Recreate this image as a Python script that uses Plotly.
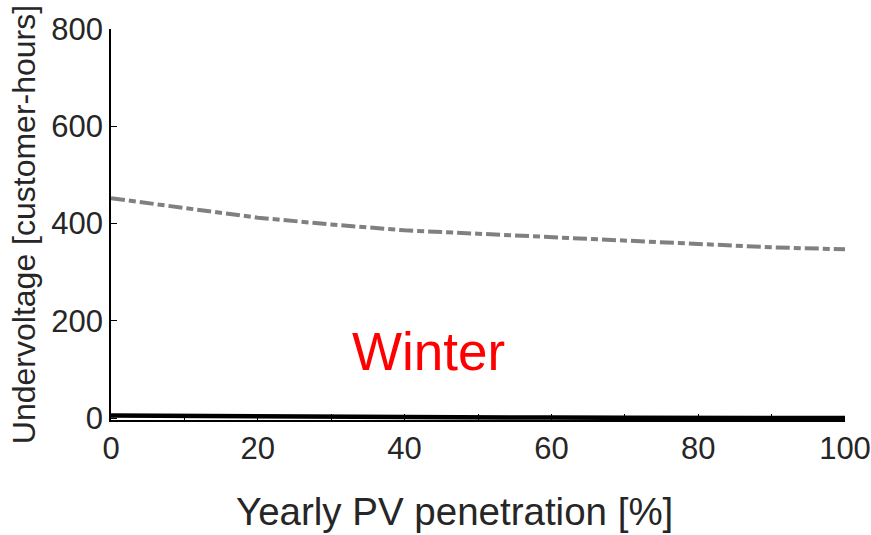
import plotly.graph_objects as go

# PV penetration levels (%)
penetration = [0, 10, 20, 30, 40, 50, 60, 70, 80, 90, 100]

# Undervoltage in customer-hours for the two cases
undervoltage_dashed = [452, 432, 412, 398, 386, 379, 372, 364, 357, 351, 347]
undervoltage_solid = [5, 4, 3, 2, 1, 1, 1, 0.5, 0.5, 0.5, 0]

x_ticks = [0, 20, 40, 60, 80, 100]
y_ticks = [0, 200, 400, 600, 800]

FONT = "Liberation Sans, Arial, sans-serif"
TEXT = "#262626"

fig = go.Figure()

fig.add_trace(go.Scatter(
    x=penetration, y=undervoltage_dashed, mode="lines",
    line=dict(color="#808080", width=4, dash="14px,4px,7px,4px"),
    showlegend=False,
))
fig.add_trace(go.Scatter(
    x=penetration, y=undervoltage_solid, mode="lines",
    line=dict(color="black", width=4.5),
    showlegend=False,
))

fig.add_annotation(
    x=43.3, y=136, xref="x", yref="y", text="Winter", showarrow=False,
    font=dict(family=FONT, size=53, color="#ff0000"),
)

# x-axis title below the tick labels, slightly left of the plot centre
fig.add_annotation(
    x=0.468, y=-0.234, xref="paper", yref="paper",
    xanchor="center", yanchor="middle",
    text="Yearly PV penetration [%]", showarrow=False,
    font=dict(family=FONT, size=38.5, color=TEXT),
)

fig.update_layout(
    width=871, height=535,
    margin=dict(l=111, r=26, t=29, b=115),
    paper_bgcolor="white", plot_bgcolor="white",
    font=dict(family=FONT, color=TEXT),
    xaxis=dict(
        range=[0, 100], tickvals=x_ticks, ticks="inside", ticklen=6,
        tickcolor="black", tickwidth=1, automargin=False,
        minor=dict(dtick=10, ticks="inside", ticklen=6, tickcolor="black", tickwidth=1),
        showline=True, linecolor="black", linewidth=1.5, showgrid=False, zeroline=False,
        tickfont=dict(size=31, color=TEXT),
    ),
    yaxis=dict(
        range=[-4, 800], tickvals=y_ticks, ticks="inside", ticklen=6,
        tickcolor="black", tickwidth=1, automargin=False,
        showline=True, linecolor="black", linewidth=1.5, showgrid=False, zeroline=False,
        tickfont=dict(size=31, color=TEXT),
        title=dict(text="Undervoltage [customer-hours]", font=dict(size=32, color=TEXT), standoff=6),
    ),
)

fig.write_html("out.html")
